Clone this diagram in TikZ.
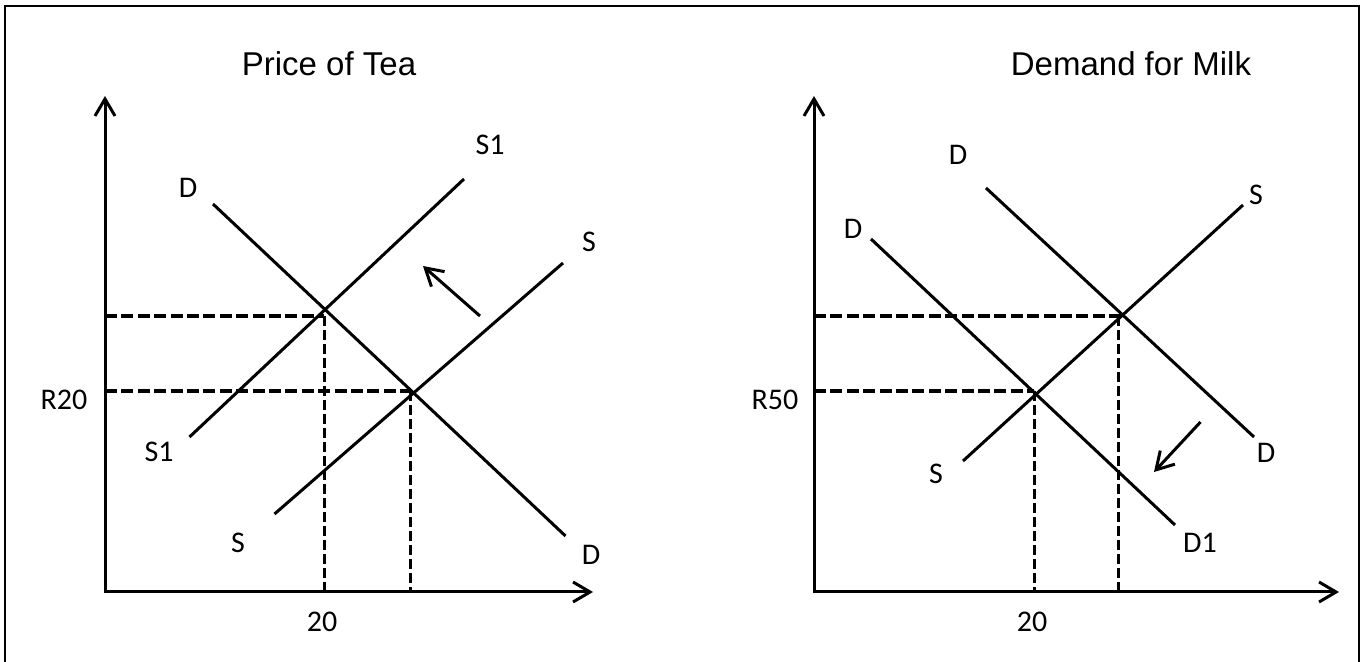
\documentclass[tikz,border=0pt]{standalone}
\usepackage{fontspec}
\setmainfont{Liberation Sans}
\newfontfamily\labelfont{Carlito}
\usetikzlibrary{arrows.meta}
\begin{document}
\begin{tikzpicture}[x=0.5pt,y=-0.5pt,
  curve/.style={line width=1.5pt},
  axis/.style={line width=1.5pt,{Straight Barb[length=8.5pt,width=10pt]}-{Straight Barb[length=8.5pt,width=10pt]}},
  shiftarrow/.style={line width=1.5pt,-{Straight Barb[length=8.5pt,width=10pt]}},
  guideh/.style={line width=1.8pt,dash pattern=on 6pt off 2.2pt},
  guidev/.style={line width=1.5pt,dash pattern=on 5pt off 2pt},
  lbl/.style={font=\labelfont\fontsize{15pt}{17pt}\selectfont,inner sep=0pt},
  ttl/.style={font=\fontsize{16.5pt}{19pt}\selectfont,inner sep=0pt}]
\useasboundingbox (0,0) rectangle (1367,662);
% outer frame (open at the bottom edge of the page)
\draw[line width=1.3pt] (5,662) -- (5,6) -- (1359,6) -- (1359,662);

% ---------------- left panel: price of tea ----------------
\node[ttl] (t1) at (329,64) {Price of Tea};
\coordinate (O1) at (105,592);
\coordinate (Y1) at (105,96);
\coordinate (X1) at (593,592);
\draw[axis] (Y1) -- (O1) -- (X1);

\coordinate (d1a) at (213,204);   \coordinate (d1b) at (565.5,536);
\coordinate (s1a) at (189.5,437); \coordinate (s1b) at (464,179);
\coordinate (sa)  at (274.5,514); \coordinate (sb)  at (563,263);
\draw[curve] (d1a) -- (d1b);
\draw[curve] (s1a) -- (s1b);
\draw[curve] (sa) -- (sb);

\coordinate (e1) at (324,316);  \coordinate (e1y) at (105,316); \coordinate (e1x) at (324,592);
\coordinate (e2) at (412,391);  \coordinate (e2y) at (105,391);
\coordinate (e2v) at (410,391); \coordinate (e2x) at (410,592);
\draw[guideh] (e1y) -- (e1);
\draw[guideh] (e2y) -- (e2);
\draw[guidev] (e1) -- (e1x);
\draw[guidev] (e2v) -- (e2x);

\coordinate (a1s) at (480,316); \coordinate (a1e) at (423,266);
\draw[shiftarrow] (a1s) -- (a1e);

\node[lbl] (lD1)  at (188,188) {D};
\node[lbl] (lS1t) at (490,145) {S1};
\node[lbl] (lSt)  at (589,242) {S};
\node[lbl] (lS1b) at (159,452) {S1};
\node[lbl] (lSb)  at (238,543) {S};
\node[lbl] (lD1b) at (591,555) {D};
\node[lbl] (q1)   at (322,622) {20};
\node[lbl] (p1)   at (64,400)  {R20};

% ---------------- right panel: demand for milk ----------------
\node[ttl] (t2) at (1131,64) {Demand for Milk};
\coordinate (O2) at (814,592);
\coordinate (Y2) at (814,96);
\coordinate (X2) at (1339,592);
\draw[axis] (Y2) -- (O2) -- (X2);

\coordinate (da) at (986,188);  \coordinate (db) at (1254,437);
\coordinate (dna) at (871,239); \coordinate (dnb) at (1175,525);
\coordinate (ssa) at (963,461); \coordinate (ssb) at (1243,205);
\draw[curve] (da) -- (db);
\draw[curve] (dna) -- (dnb);
\draw[curve] (ssa) -- (ssb);

\coordinate (f1) at (1121,316); \coordinate (f1y) at (814,316);
\coordinate (f1v) at (1118,316); \coordinate (f1x) at (1118,592);
\coordinate (f2) at (1034,391); \coordinate (f2y) at (814,391); \coordinate (f2x) at (1034,592);
\draw[guideh] (f1y) -- (f1);
\draw[guideh] (f2y) -- (f2);
\draw[guidev] (f1v) -- (f1x);
\draw[guidev] (f2) -- (f2x);

\coordinate (a2s) at (1200.5,422); \coordinate (a2e) at (1154,472);
\draw[shiftarrow] (a2s) -- (a2e);

\node[lbl] (lDt)  at (958,155)  {D};
\node[lbl] (lDl)  at (853,229)  {D};
\node[lbl] (lSrt) at (1256,195) {S};
\node[lbl] (lDr)  at (1266,453) {D};
\node[lbl] (lSrb) at (936,474)  {S};
\node[lbl] (lD1r) at (1200,543) {D1};
\node[lbl] (p2)   at (775,400)  {R50};
\node[lbl] (q2)   at (1032,622) {20};
\end{tikzpicture}
\end{document}
